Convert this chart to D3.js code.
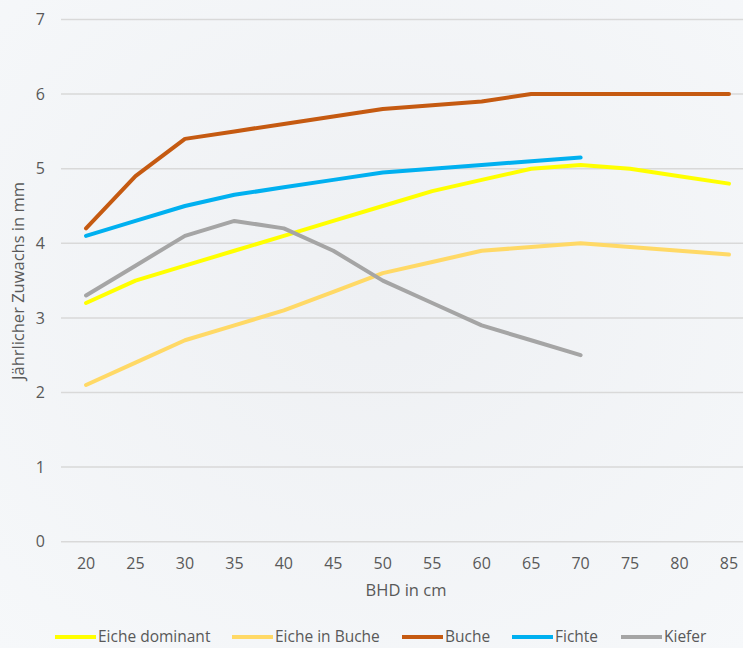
<!DOCTYPE html>
<html>
<head>
<meta charset="utf-8">
<script src="https://cdn.jsdelivr.net/npm/d3@7"></script>
<style>
  html, body { margin: 0; padding: 0; background: #f2f4f7; }
  svg { display: block; }
  text { font-family: "Open Sans", Lato, sans-serif; fill: #595959; }
</style>
</head>
<body>
<svg id="chart" width="743" height="648"></svg>
<script>
// Stem diameter classes (cm)
const categories = ["20","25","30","35","40","45","50","55","60","65","70","75","80","85"];

// Annual increment in mm per species
const eicheDominant = [3.2, 3.5, 3.7, 3.9, 4.1, 4.3, 4.5, 4.7, 4.85, 5.0, 5.05, 5.0, 4.9, 4.8];
const eicheInBuche  = [2.1, 2.4, 2.7, 2.9, 3.1, 3.35, 3.6, 3.75, 3.9, 3.95, 4.0, 3.95, 3.9, 3.85];
const buche         = [4.2, 4.9, 5.4, 5.5, 5.6, 5.7, 5.8, 5.85, 5.9, 6.0, 6.0, 6.0, 6.0, 6.0];
const fichte        = [4.1, 4.3, 4.5, 4.65, 4.75, 4.85, 4.95, 5.0, 5.05, 5.1, 5.15];
const kiefer        = [3.3, 3.7, 4.1, 4.3, 4.2, 3.9, 3.5, 3.2, 2.9, 2.7, 2.5];

const yTicks = [0, 1, 2, 3, 4, 5, 6, 7];

const seriesNames  = ["Eiche dominant", "Eiche in Buche", "Buche", "Fichte", "Kiefer"];
const seriesValues = [eicheDominant, eicheInBuche, buche, fichte, kiefer];
const seriesColors = ["#ffff00", "#ffd966", "#c55a11", "#00b0f0", "#a5a5a5"];

const svg = d3.select("#chart");
const W = 743, H = 648;

// soft background
const defs = svg.append("defs");
const grad = defs.append("radialGradient").attr("id", "bg")
  .attr("cx", "50%").attr("cy", "45%").attr("r", "75%");
grad.append("stop").attr("offset", "0%").attr("stop-color", "#eef0f3");
grad.append("stop").attr("offset", "100%").attr("stop-color", "#f6f8fa");
svg.append("rect").attr("width", W).attr("height", H).attr("fill", "url(#bg)");

const x = d3.scaleBand().domain(categories).range([61.3, 753.7]);
const y = d3.scaleLinear().domain([0, 7]).range([541.7, 19.5]);
const cx = c => x(c) + x.bandwidth() / 2;

// horizontal gridlines
svg.append("g").selectAll("line").data(yTicks).join("line")
  .attr("x1", 61).attr("x2", W)
  .attr("y1", d => y(d)).attr("y2", d => y(d))
  .attr("stroke", "#d9d9d9").attr("stroke-width", 1.5);

// y tick labels
svg.append("g").selectAll("text").data(yTicks).join("text")
  .attr("x", 45).attr("y", d => y(d)).attr("dy", "0.35em")
  .attr("text-anchor", "end").attr("font-size", 16)
  .text(d => d);

// x tick labels
svg.append("g").selectAll("text").data(categories).join("text")
  .attr("x", d => cx(d)).attr("y", 569)
  .attr("text-anchor", "middle").attr("font-size", 16)
  .text(d => d);

// axis titles
svg.append("text").attr("x", 406).attr("y", 596)
  .attr("text-anchor", "middle").attr("font-size", 16.5).text("BHD in cm");
svg.append("text").attr("transform", "translate(18,281) rotate(-90)")
  .attr("dy", "0.35em")
  .attr("text-anchor", "middle").attr("font-size", 16.5).text("Jährlicher Zuwachs in mm");

// lines
const line = d3.line()
  .x((d, i) => cx(categories[i]))
  .y(d => y(d));

svg.append("g").selectAll("path").data(seriesValues).join("path")
  .attr("d", d => line(d))
  .attr("fill", "none")
  .attr("stroke", (d, i) => seriesColors[i])
  .attr("stroke-width", 4)
  .attr("stroke-linejoin", "round")
  .attr("stroke-linecap", "round");

// legend
const legendX = [55, 232, 402, 512, 621];
const lg = svg.append("g").selectAll("g").data(seriesNames).join("g")
  .attr("transform", (d, i) => `translate(${legendX[i]},637)`);
lg.append("line").attr("x1", 0).attr("x2", 41).attr("y1", 0).attr("y2", 0)
  .attr("stroke", (d, i) => seriesColors[i]).attr("stroke-width", 4);
lg.append("text").attr("x", 43).attr("y", 0).attr("dy", "0.35em")
  .attr("font-size", 15.5).text(d => d);
</script>
</body>
</html>
